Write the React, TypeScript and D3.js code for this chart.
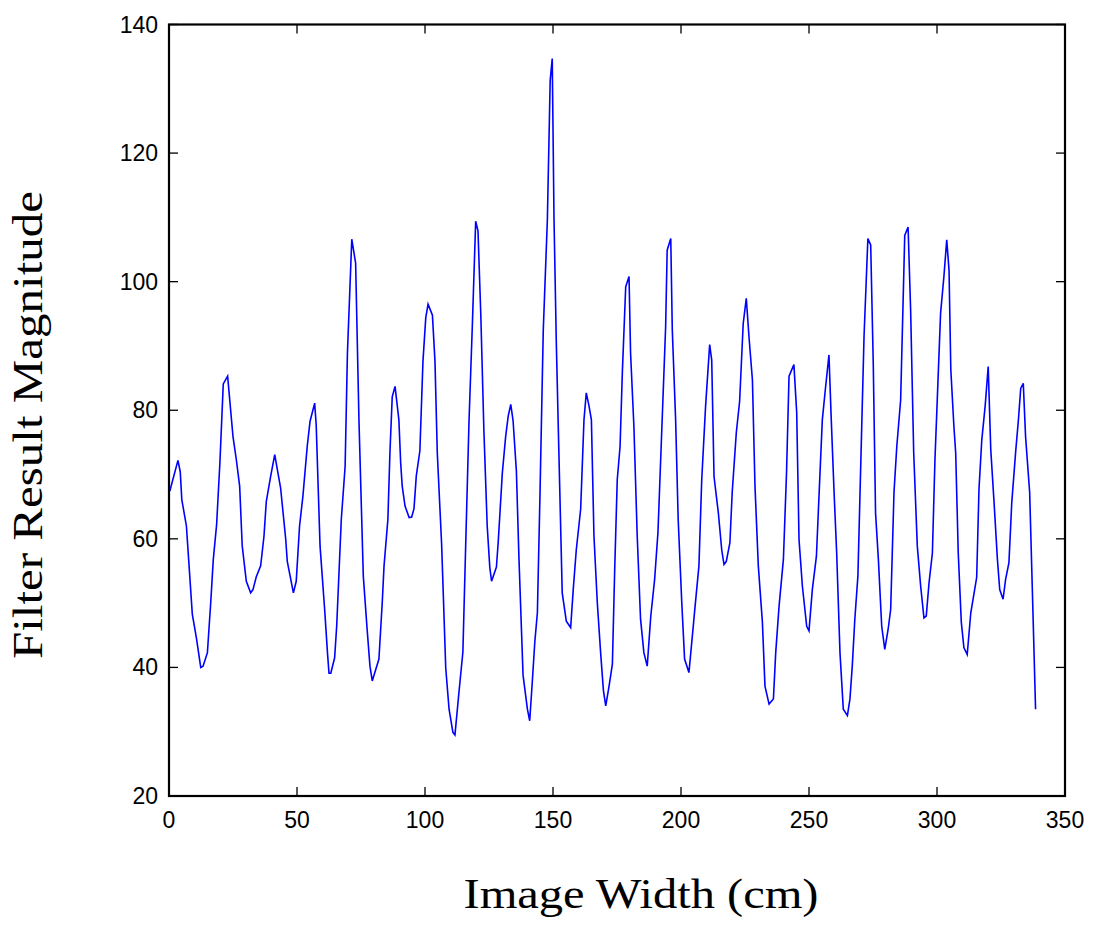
import React from "react";
import * as d3 from "d3";

const xValues: number[] = [
  0.3, 3.5, 4.4, 5.0, 6.8, 9.1, 10.7, 12.4, 13.3, 15.0, 16.3, 17.3, 18.6, 19.9, 21.2, 22.9,
  25.0, 26.3, 27.6, 28.6, 30.2, 31.9, 32.8, 34.1, 35.8, 37.1, 38.0, 39.7, 41.3, 43.6, 45.6,
  46.2, 48.6, 49.7, 51.0, 52.3, 54.0, 55.1, 56.9, 57.5, 59.0, 60.8, 61.9, 62.5, 63.2, 64.7,
  65.5, 67.3, 68.8, 69.7, 71.4, 72.9, 74.2, 75.9, 77.4, 78.5, 79.4, 80.4, 82.0, 83.3, 84.0,
  85.5, 86.3, 87.2, 88.3, 89.8, 90.5, 91.1, 92.2, 93.8, 94.8, 95.7, 96.6, 98.0, 99.2, 100.3,
  101.2, 102.9, 103.9, 104.8, 106.5, 108.1, 109.4, 110.9, 111.7, 113.3, 114.8, 115.9, 117.2,
  118.5, 119.8, 120.7, 121.8, 123.0, 124.3, 125.3, 126.0, 127.9, 128.6, 130.2, 131.5, 132.5,
  133.5, 134.4, 135.7, 136.7, 138.3, 140.0, 140.9, 141.9, 142.9, 143.9, 144.9, 146.2, 147.8,
  148.9, 149.7, 150.4, 151.3, 152.3, 153.6, 155.2, 156.9, 157.9, 159.1, 160.8, 162.1, 163.0,
  164.1, 165.0, 166.0, 167.3, 168.6, 169.7, 170.6, 171.9, 173.2, 174.1, 175.1, 176.2, 177.1,
  178.4, 179.7, 180.3, 181.6, 182.9, 184.2, 185.5, 186.8, 188.2, 189.7, 191.0, 192.5, 194.0,
  194.6, 196.0, 196.6, 197.9, 198.9, 200.3, 201.4, 203.1, 204.2, 205.5, 207.0, 208.1, 209.6,
  211.2, 212.0, 212.9, 214.6, 215.9, 216.8, 217.7, 219.1, 220.0, 221.6, 222.9, 224.3, 225.5,
  226.6, 227.9, 228.9, 230.2, 231.8, 232.8, 234.4, 236.1, 237.0, 238.3, 240.0, 241.2, 242.2,
  244.1, 245.2, 246.1, 247.4, 249.1, 250.0, 251.3, 252.9, 253.9, 255.2, 256.5, 257.8, 258.7,
  259.8, 260.8, 262.1, 263.4, 265.0, 266.0, 266.9, 267.9, 269.1, 270.4, 271.5, 273.0, 274.1,
  275.1, 276.0, 277.1, 278.4, 279.6, 280.9, 281.9, 283.2, 284.3, 285.8, 287.4, 288.7, 289.7,
  290.9, 292.3, 293.6, 294.9, 295.8, 296.9, 298.2, 299.2, 300.1, 301.4, 302.7, 303.8, 304.7,
  305.4, 306.6, 307.3, 308.3, 309.5, 310.5, 311.8, 313.2, 314.5, 315.5, 316.4, 317.5, 318.8,
  320.0, 321.0, 322.3, 323.6, 324.5, 325.8, 326.8, 328.1, 329.2, 330.7, 331.8, 332.7, 333.7,
  334.6, 336.2, 337.2, 338.5,
];

const yValues: number[] = [
  67.4, 72.2, 70.4, 66.1, 62.0, 48.3, 44.6, 40.0, 40.2, 42.3, 50.1, 56.8, 62.2, 72.0, 84.1, 85.3,
  75.9, 72.3, 68.2, 58.9, 53.4, 51.6, 52.1, 54.1, 55.8, 60.4, 65.8, 69.7, 73.1, 67.9, 59.9,
  56.5, 51.6, 53.4, 62.0, 66.6, 74.4, 78.3, 81.1, 77.7, 58.9, 49.0, 42.3, 39.1, 39.1, 41.5,
  46.4, 63.0, 71.3, 88.9, 106.6, 102.9, 78.5, 54.2, 45.9, 40.2, 37.9, 39.2, 41.3, 50.1, 55.8,
  63.0, 73.4, 82.1, 83.7, 78.5, 71.8, 68.2, 65.1, 63.3, 63.4, 64.7, 69.8, 73.7, 87.6, 94.4,
  96.5, 94.8, 87.6, 73.4, 59.1, 39.9, 33.5, 29.9, 29.5, 36.3, 42.4, 59.1, 78.4,
  93.3, 109.4, 107.9, 94.8, 76.9, 62.0, 55.6, 53.4, 55.6, 59.5, 70.2, 75.9, 79.1,
  80.9, 78.4, 70.5, 57.0, 38.8, 33.5, 31.7, 37.7, 44.0, 48.5, 66.6, 92.5, 109.6,
  131.3, 134.7, 109.6, 90.4, 73.4, 51.6, 47.2, 46.2, 52.1, 58.3, 64.6, 78.5, 82.7,
  80.6, 78.5, 60.4, 50.1, 42.3, 36.4, 34.0, 37.1, 40.5, 55.2, 69.2, 74.4, 86.0,
  99.2, 100.8, 88.9, 77.5, 60.4, 47.5, 42.3, 40.2, 48.0, 53.7, 61.0, 77.0, 93.0,
  104.9, 106.7, 92.5, 78.5, 63.0, 50.1, 41.3, 39.2, 43.9, 49.5, 55.8, 69.2, 80.6,
  90.2, 87.8, 69.7, 64.0, 58.3, 56.0, 56.5, 59.4, 67.2, 76.5, 81.4, 93.5, 97.4,
  91.2, 84.7, 68.2, 55.8, 47.0, 37.1, 34.3, 35.1, 42.3, 49.5, 56.8, 70.0, 85.3,
  87.1, 79.6, 59.9, 52.7, 46.4, 45.7, 52.1, 57.3, 66.6, 78.5, 83.7, 88.6, 78.5,
  67.2, 57.9, 42.3, 33.5, 32.5, 35.1, 40.2, 47.5, 54.2, 74.4, 91.5, 106.7, 105.7,
  87.3, 64.0, 56.8, 46.4, 42.8, 45.9, 49.0, 67.2, 74.4, 81.6, 107.2, 108.5, 95.6,
  73.4, 58.9, 52.7, 47.7, 48.0, 53.2, 57.8, 72.3, 81.6, 95.1, 100.8, 106.5, 101.8,
  86.3, 77.5, 73.4, 57.8, 47.0, 43.1, 42.0, 48.5, 51.6, 54.0, 67.7, 75.4, 80.6,
  86.8, 73.9, 65.6, 56.8, 52.1, 50.6, 53.7, 56.3, 65.6, 73.4, 78.5, 83.4, 84.2,
  75.9, 67.2, 52.7, 33.5,
];

const xTicks: number[] = [0, 50, 100, 150, 200, 250, 300, 350];
const yTicks: number[] = [20, 40, 60, 80, 100, 120, 140];
const xLabel = "Image Width (cm)";
const yLabel = "Filter Result Magnitude";

export default function App() {
  const W = 1096;
  const H = 925;
  const left = 169;
  const right = 1065;
  const top = 24.5;
  const bottom = 796;

  const x = d3.scaleLinear().domain([0, 350]).range([left, right]);
  const y = d3.scaleLinear().domain([20, 140]).range([bottom, top]);

  const pts: [number, number][] = xValues.map((v, i) => [v, yValues[i]]);
  const line = d3
    .line<[number, number]>()
    .x((d) => x(d[0]))
    .y((d) => y(d[1]));

  const tickLen = 9;
  const sans = "'Liberation Sans', Arial, Helvetica, sans-serif";
  const serif = "'Liberation Serif', 'Times New Roman', Times, serif";

  return (
    <svg
      width={W}
      height={H}
      style={{ position: "absolute", left: 0, top: 0, background: "#fff" }}
    >
      <rect x={0} y={0} width={W} height={H} fill="#fff" />
      <path d={line(pts) || ""} fill="none" stroke="#0000ff" strokeWidth={1.6} strokeLinejoin="miter" />

      {xTicks.map((t) => (
        <g key={"xt" + t}>
          <line x1={x(t)} x2={x(t)} y1={bottom} y2={bottom - tickLen} stroke="#000" strokeWidth={1.3} />
          <line x1={x(t)} x2={x(t)} y1={top} y2={top + tickLen} stroke="#000" strokeWidth={1.3} />
          <text x={x(t)} y={828} textAnchor="middle" fontFamily={sans} fontSize={23} fill="#000">
            {t}
          </text>
        </g>
      ))}
      {yTicks.map((t) => (
        <g key={"yt" + t}>
          <line x1={left} x2={left + tickLen} y1={y(t)} y2={y(t)} stroke="#000" strokeWidth={1.3} />
          <line x1={right} x2={right - tickLen} y1={y(t)} y2={y(t)} stroke="#000" strokeWidth={1.3} />
          <text x={158} y={y(t) + 8} textAnchor="end" fontFamily={sans} fontSize={23} fill="#000">
            {t}
          </text>
        </g>
      ))}

      <rect
        x={left}
        y={top}
        width={right - left}
        height={bottom - top}
        fill="none"
        stroke="#000"
        strokeWidth={2.2}
      />

      <text
        x={641}
        y={908}
        textAnchor="middle"
        fontFamily={serif}
        fontSize={43}
        textLength={355}
        lengthAdjust="spacingAndGlyphs"
        fill="#000"
      >
        {xLabel}
      </text>
      <text
        transform={`translate(42, 425) rotate(-90)`}
        textAnchor="middle"
        fontFamily={serif}
        fontSize={42}
        textLength={468}
        lengthAdjust="spacingAndGlyphs"
        fill="#000"
      >
        {yLabel}
      </text>
    </svg>
  );
}
